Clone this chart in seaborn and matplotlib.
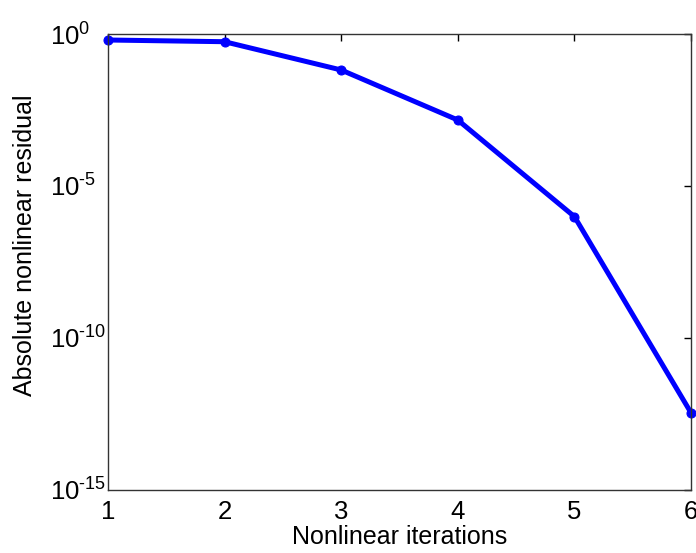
import matplotlib
matplotlib.use("Agg")
import matplotlib.pyplot as plt
import matplotlib.ticker as mticker
import seaborn as sns
import pandas as pd

# values
iterations = [1, 2, 3, 4, 5, 6]
residuals = [0.635, 0.558, 0.0655, 1.48e-3, 9.8e-7, 3.4e-13]
y_ticks = [1e-15, 1e-10, 1e-5, 1e0]
y_tick_exps = ["-15", "-10", "-5", "0"]

df = pd.DataFrame({"iter": iterations, "res": residuals})

sns.set_style("white")
plt.rcParams["font.family"] = ["Liberation Sans", "DejaVu Sans"]
plt.rcParams["mathtext.fontset"] = "custom"
plt.rcParams["mathtext.rm"] = "Liberation Sans"
plt.rcParams["mathtext.it"] = "Liberation Sans"
plt.rcParams["text.color"] = "black"
plt.rcParams["axes.labelcolor"] = "black"

fig = plt.figure(figsize=(6.96, 5.53), dpi=100)
ax = fig.add_axes([0.155, 0.114, 0.838, 0.8245])

sns.lineplot(data=df, x="iter", y="res", ax=ax, color="#0000ff",
             linewidth=3.6, marker="o", markersize=6.5,
             markeredgecolor="#0000ff", clip_on=False)

ax.set_yscale("log")
ax.set_xlim(1, 6)
ax.set_ylim(1e-15, 1e0)
ax.set_xticks(iterations)
ax.set_yticks(y_ticks)
ax.set_yticklabels([r"$\mathrm{10}^{\text{%s}}$" % e for e in y_tick_exps])
ax.yaxis.set_minor_locator(mticker.NullLocator())

ax.tick_params(direction="in", length=5, width=1, top=True, right=True,
               labelsize=18.5, colors="black")
ax.tick_params(axis="x", pad=7)
# matlab lines up the "10" bases, so left-align the y tick labels
ax.tick_params(axis="y", pad=41.5)
for lab in ax.get_yticklabels():
    lab.set_horizontalalignment("left")
for s in ax.spines.values():
    s.set_color("#333333")
    s.set_linewidth(1)

ax.set_xlabel("Nonlinear iterations", fontsize=18, labelpad=1)
ax.set_ylabel("Absolute nonlinear residual", fontsize=18)
ax.yaxis.set_label_coords(-0.121, 0.537)

fig.savefig("out.png", dpi=100)
